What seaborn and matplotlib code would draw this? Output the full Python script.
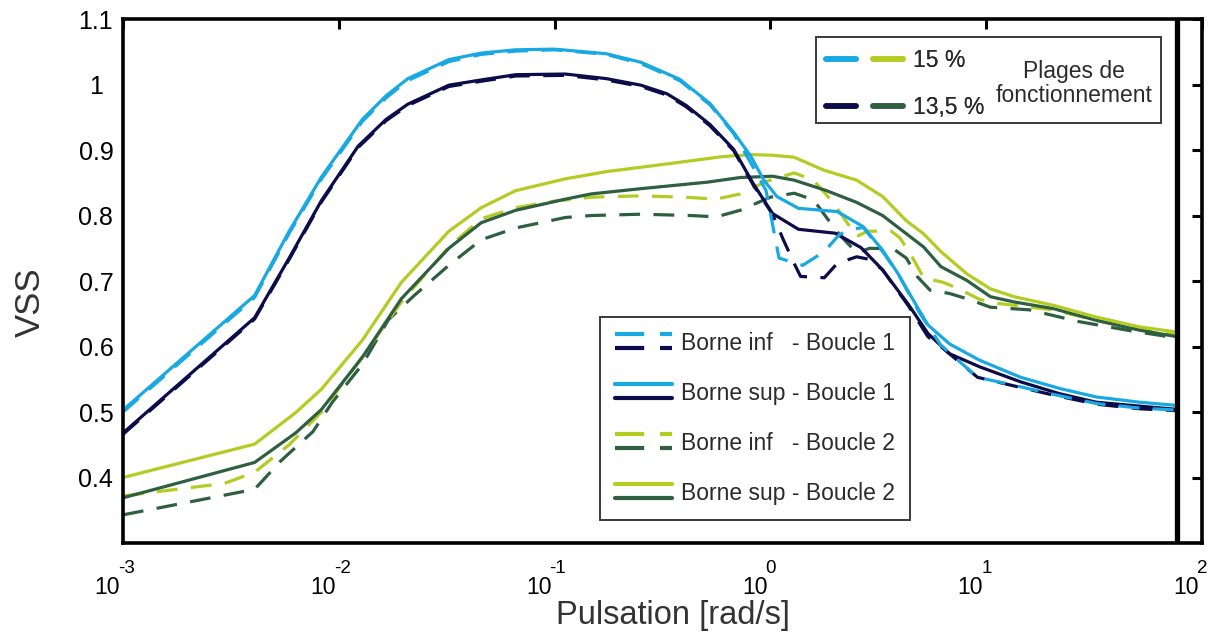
import numpy as np
import pandas as pd
import matplotlib
matplotlib.use("Agg")
import matplotlib.pyplot as plt
import matplotlib.transforms as mtransforms
import seaborn as sns
from matplotlib.lines import Line2D
from matplotlib.patches import Rectangle
from matplotlib.legend_handler import HandlerBase, HandlerTuple

# ---------------- data (log10 of pulsation in rad/s, VSS) ----------------
lw_sup_b1_15 = [-3.00, -2.39, -2.23, -2.08, -1.89, -1.78, -1.68, -1.49, -1.34, -1.18, -1.00, -0.76, -0.60,
                -0.42, -0.28, -0.17, -0.09, -0.03, 0.03, 0.13, 0.31, 0.43, 0.52, 0.59, 0.69, 0.73, 0.83,
                0.97, 1.16, 1.34, 1.51, 1.71, 1.885]
vss_sup_b1_15 = [0.503, 0.678, 0.776, 0.859, 0.947, 0.983, 1.009, 1.038, 1.048, 1.053, 1.054, 1.047, 1.034,
                 1.008, 0.971, 0.927, 0.890, 0.854, 0.829, 0.811, 0.806, 0.783, 0.747, 0.712, 0.655, 0.633, 0.604,
                 0.579, 0.553, 0.536, 0.523, 0.515, 0.510]

lw_sup_b1_135 = [-3.00, -2.39, -2.23, -2.08, -1.91, -1.78, -1.68, -1.49, -1.34, -1.18, -0.95, -0.76, -0.60,
                 -0.48, -0.39, -0.28, -0.17, -0.08, 0.01, 0.13, 0.30, 0.42, 0.52, 0.64, 0.73, 0.83, 0.97,
                 1.16, 1.34, 1.51, 1.71, 1.885]
vss_sup_b1_135 = [0.468, 0.644, 0.735, 0.823, 0.906, 0.947, 0.970, 0.999, 1.007, 1.015, 1.016, 1.009, 0.999,
                  0.986, 0.968, 0.939, 0.901, 0.849, 0.803, 0.779, 0.773, 0.751, 0.717, 0.664, 0.620, 0.589, 0.569,
                  0.546, 0.528, 0.515, 0.509, 0.504]

lw_inf_b1_15 = [-3.00, -2.39, -2.23, -2.08, -1.89, -1.78, -1.68, -1.49, -1.34, -1.18, -1.00, -0.76, -0.60,
                -0.42, -0.28, -0.17, -0.09, -0.02, 0.04, 0.15, 0.25, 0.32, 0.37, 0.43, 0.52, 0.59, 0.69,
                0.79, 0.96, 1.14, 1.31, 1.51, 1.71, 1.885]
vss_inf_b1_15 = [0.500, 0.675, 0.773, 0.856, 0.944, 0.980, 1.006, 1.035, 1.046, 1.051, 1.053, 1.046, 1.032,
                 1.006, 0.969, 0.925, 0.880, 0.838, 0.735, 0.724, 0.745, 0.771, 0.778, 0.782, 0.745, 0.712, 0.652,
                 0.602, 0.553, 0.540, 0.527, 0.513, 0.506, 0.503]

lw_inf_b1_135 = [-3.00, -2.39, -2.23, -2.08, -1.91, -1.78, -1.68, -1.49, -1.34, -1.18, -0.95, -0.76, -0.60,
                 -0.48, -0.39, -0.28, -0.17, -0.08, 0.01, 0.06, 0.11, 0.14, 0.25, 0.31, 0.40, 0.46, 0.52,
                 0.64, 0.73, 0.79, 0.96, 1.14, 1.31, 1.51, 1.71, 1.885]
vss_inf_b1_135 = [0.466, 0.642, 0.733, 0.821, 0.904, 0.945, 0.968, 0.997, 1.005, 1.013, 1.014, 1.007, 0.997,
                  0.984, 0.966, 0.937, 0.899, 0.847, 0.802, 0.763, 0.727, 0.707, 0.705, 0.727, 0.737, 0.733, 0.717,
                  0.662, 0.615, 0.600, 0.553, 0.539, 0.526, 0.512, 0.505, 0.502]

lw_sup_b2_15 = [-3.00, -2.39, -2.20, -2.08, -1.89, -1.71, -1.49, -1.34, -1.18, -0.95, -0.76, -0.45, -0.22,
                -0.09, 0.01, 0.11, 0.25, 0.40, 0.52, 0.63, 0.71, 0.79, 0.91, 1.02, 1.13, 1.31, 1.51, 1.71, 1.885]
vss_sup_b2_15 = [0.400, 0.451, 0.499, 0.535, 0.610, 0.698, 0.776, 0.812, 0.838, 0.856, 0.867, 0.880, 0.890,
                 0.893, 0.892, 0.889, 0.869, 0.854, 0.829, 0.792, 0.772, 0.745, 0.711, 0.688, 0.676, 0.663,
                 0.645, 0.630, 0.622]

lw_sup_b2_135 = [-3.00, -2.39, -2.20, -2.08, -1.89, -1.71, -1.49, -1.34, -1.18, -0.95, -0.83, -0.60, -0.29,
                 -0.14, 0.01, 0.11, 0.26, 0.40, 0.52, 0.71, 0.79, 0.91, 1.02, 1.13, 1.31, 1.51, 1.71, 1.885]
vss_sup_b2_135 = [0.369, 0.423, 0.468, 0.504, 0.584, 0.673, 0.750, 0.789, 0.808, 0.825, 0.833, 0.841, 0.851,
                  0.858, 0.860, 0.854, 0.838, 0.820, 0.800, 0.752, 0.722, 0.701, 0.676, 0.668, 0.658, 0.640,
                  0.625, 0.615]

lw_inf_b2_15 = [-3.00, -2.80, -2.53, -2.39, -2.23, -2.08, -1.90, -1.71, -1.49, -1.34, -1.18, -1.00, -0.83,
                -0.60, -0.40, -0.25, -0.14, -0.02, 0.11, 0.20, 0.29, 0.40, 0.45, 0.56, 0.60, 0.66, 0.71, 0.80,
                0.86, 0.97, 1.05, 1.31, 1.51, 1.71, 1.885]
vss_inf_b2_15 = [0.372, 0.380, 0.391, 0.408, 0.450, 0.500, 0.580, 0.668, 0.752, 0.795, 0.812, 0.822, 0.828,
                 0.830, 0.828, 0.825, 0.833, 0.852, 0.865, 0.854, 0.820, 0.768, 0.776, 0.776, 0.766, 0.735,
                 0.705, 0.698, 0.690, 0.672, 0.666, 0.656, 0.640, 0.626, 0.617]

lw_inf_b2_135 = [-3.00, -2.39, -2.27, -2.12, -2.03, -1.89, -1.77, -1.65, -1.49, -1.34, -1.18, -0.95, -0.83,
                 -0.60, -0.37, -0.25, -0.14, 0.00, 0.11, 0.20, 0.26, 0.32, 0.40, 0.46, 0.57, 0.63, 0.68,
                 0.74, 0.83, 0.91, 1.02, 1.20, 1.43, 1.67, 1.885]
vss_inf_b2_135 = [0.343, 0.382, 0.425, 0.470, 0.515, 0.573, 0.641, 0.678, 0.724, 0.763, 0.781, 0.797, 0.800,
                  0.802, 0.800, 0.798, 0.808, 0.828, 0.834, 0.824, 0.797, 0.771, 0.743, 0.750, 0.749, 0.735,
                  0.707, 0.686, 0.681, 0.673, 0.660, 0.656, 0.638, 0.624, 0.613]

xtick_vals = [1e-3, 1e-2, 1e-1, 1e0, 1e1, 1e2]
xtick_bases = ['10', '10', '10', '10', '10', '10']
xtick_exponents = ['-3', '-2', '-1', '0', '1', '2']
ytick_vals = [0.4, 0.5, 0.6, 0.7, 0.8, 0.9, 1.0, 1.1]
ytick_labels = ['0.4', '0.5', '0.6', '0.7', '0.8', '0.9', '1', '1.1']

legend_labels = ['Borne inf   - Boucle 1', 'Borne sup - Boucle 1',
                 'Borne inf   - Boucle 2', 'Borne sup - Boucle 2']
range_labels = ['15 %', '13,5 %']
range_title = 'Plages de\nfonctionnement'

# ---------------- style ----------------
sns.set_theme(style='white')
plt.rcParams['font.family'] = ['Liberation Sans', 'DejaVu Sans']

C_BLUE = '#18a8e2'
C_NAVY = '#0c0c4a'
C_LGREEN = '#b3cc22'
C_DGREEN = '#2d5f40'
DASH = (0, (6.5, 4.2))
LW = 2.3

fig = plt.figure(figsize=(12.25, 6.34), dpi=100)
ax = fig.add_axes([0.1004, 0.1435, 0.8808, 0.8265])

series = [
    (lw_inf_b2_135, vss_inf_b2_135, C_DGREEN, DASH),
    (lw_inf_b2_15, vss_inf_b2_15, C_LGREEN, DASH),
    (lw_sup_b2_135, vss_sup_b2_135, C_DGREEN, '-'),
    (lw_sup_b2_15, vss_sup_b2_15, C_LGREEN, '-'),
    (lw_sup_b1_135, vss_sup_b1_135, C_NAVY, '-'),
    (lw_sup_b1_15, vss_sup_b1_15, C_BLUE, '-'),
    (lw_inf_b1_135, vss_inf_b1_135, C_NAVY, DASH),
    (lw_inf_b1_15, vss_inf_b1_15, C_BLUE, DASH),
]
for lw_vals, vss_vals, col, ls in series:
    df = pd.DataFrame({'w': 10 ** np.asarray(lw_vals), 'vss': vss_vals})
    sns.lineplot(data=df, x='w', y='vss', ax=ax, color=col, linewidth=LW,
                 linestyle=ls, estimator=None, errorbar=None, sort=False)

# thick vertical line at the end of the data
ax.axvline(10 ** lw_sup_b1_15[-1], color='black', lw=3.8, zorder=5)

ax.set_xscale('log')
ax.set_xlim(xtick_vals[0], xtick_vals[-1])
ax.set_ylim(0.3, 1.1)
ax.set_xticks(xtick_vals)
ax.set_xticklabels(xtick_bases, ha='right')
ax.xaxis.set_minor_locator(matplotlib.ticker.NullLocator())
ax.set_yticks(ytick_vals)
ax.set_yticklabels(ytick_labels, ha='center')
ax.tick_params(axis='both', which='major', direction='in', length=7, width=2.2,
               top=True, right=True, colors='black')
ax.tick_params(axis='x', pad=24, labelsize=16.5)
ax.tick_params(axis='y', pad=19.5, labelsize=18)
for sp in ax.spines.values():
    sp.set_linewidth(2.6)
    sp.set_color('black')
    sp.set_visible(True)

# shift the "10" bases slightly left of their ticks
shift = mtransforms.ScaledTranslation(-3 / 100, 0, fig.dpi_scale_trans)
for lab in ax.get_xticklabels():
    lab.set_transform(lab.get_transform() + shift)

# exponents of the x tick labels
blend = mtransforms.blended_transform_factory(ax.transData, ax.transAxes)
exp_tr = mtransforms.offset_copy(blend, fig=fig, x=-5, y=0, units='dots')
for xv, ex in zip(xtick_vals, xtick_exponents):
    ax.text(xv, -0.0573, ex, transform=exp_tr, ha='left', va='baseline',
            fontsize=13.5, color='black', clip_on=False)

ax.set_xlabel('Pulsation [rad/s]', fontsize=23.5, color='#333333')
ax.xaxis.set_label_coords(0.51, -0.109)
ax.xaxis.label.set_va('top')
ax.set_ylabel('VSS', fontsize=25, color='#333333')
ax.yaxis.set_label_coords(-0.086, 0.46)
ax.yaxis.label.set_va('center')


# ---------------- legend 2 (stacked swatches) ----------------
class StackedHandler(HandlerBase):
    def create_artists(self, legend, orig_handle, xdescent, ydescent, width, height, fontsize, trans):
        out = []
        for h, frac in zip(orig_handle, (0.92, 0.08)):
            y = frac * height - ydescent + height * 0.05
            ln = Line2D([-xdescent, -xdescent + width], [y, y], color=h.get_color(),
                        linestyle=h.get_linestyle(), linewidth=h.get_linewidth())
            if h.get_linestyle() != '-':
                ln.set_dashes((7.0, 3.8))
            ln.set_transform(trans)
            out.append(ln)
        return out


def proxy(col, ls, lw=3.0):
    return Line2D([], [], color=col, linestyle=ls, linewidth=lw)

h2 = [(proxy(C_BLUE, '--'), proxy(C_NAVY, '--')),
      (proxy(C_BLUE, '-'), proxy(C_NAVY, '-')),
      (proxy(C_LGREEN, '--'), proxy(C_DGREEN, '--')),
      (proxy(C_LGREEN, '-'), proxy(C_DGREEN, '-'))]
leg2 = ax.legend(h2, legend_labels, handler_map={tuple: StackedHandler()},
                 loc='upper left', bbox_to_anchor=(0.4421, 0.4313), borderaxespad=0,
                 fontsize=16.5, handlelength=2.5, handletextpad=0.4, labelspacing=1.18,
                 borderpad=0.65, fancybox=False, framealpha=1, edgecolor='#3a3a3a',
                 labelcolor='#2b2b2b')
leg2.get_frame().set_linewidth(1.4)
ax.add_artist(leg2)

# ---------------- legend 1 (ranges) ----------------
h1 = [(proxy(C_BLUE, '-', 4.0), proxy(C_LGREEN, '-', 4.0)),
      (proxy(C_NAVY, '-', 4.0), proxy(C_DGREEN, '-', 4.0))]
leg1 = ax.legend(h1, range_labels, handler_map={tuple: HandlerTuple(ndivide=None, pad=0.75)},
                 loc='upper left', bbox_to_anchor=(0.6515, 0.943), borderaxespad=0,
                 borderpad=0, fontsize=16.5, handlelength=3.35, handletextpad=0.45,
                 labelspacing=1.05, frameon=False, labelcolor='#2b2b2b')
ax.add_artist(leg1)
ax.add_patch(Rectangle((0.642, 0.8015), 0.320, 0.1645, transform=ax.transAxes,
                       fill=False, edgecolor='#3a3a3a', linewidth=1.4, zorder=6))
ax.text(0.881, 0.877, range_title, transform=ax.transAxes, ha='center', va='center',
        fontsize=16.5, color='#2b2b2b', linespacing=1.1, zorder=6)

fig.savefig('out.png', dpi=100, facecolor='white')
